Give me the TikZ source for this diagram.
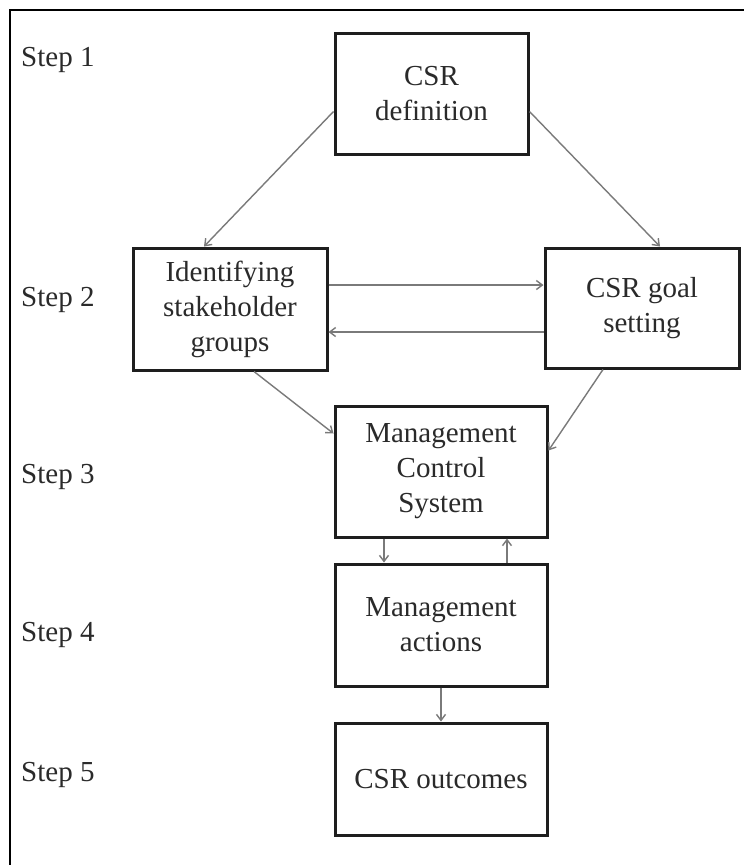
\documentclass[tikz,border=0pt]{standalone}
\usepackage{fontspec}
\setmainfont{Liberation Serif}
\usetikzlibrary{arrows.meta,calc}
\definecolor{boxline}{HTML}{1E1E1E}
\definecolor{arrline}{HTML}{7A7A7A}
\definecolor{txt}{HTML}{2A2A2A}
\begin{document}
\begin{tikzpicture}[x=1pt,y=-1pt,
  stepbox/.style={draw=boxline,line width=3pt,align=center,text=txt,inner sep=2pt,
    font=\fontsize{29}{35}\selectfont},
  steplabel/.style={anchor=west,text=txt,inner sep=0pt,font=\fontsize{29}{35}\selectfont},
  arr/.style={draw=arrline,line width=1.4pt,-{Straight Barb[length=6pt,width=9pt]}},
  frameline/.style={draw=black,line width=2pt}]
\useasboundingbox (0,0) rectangle (744,865);
\fill[white] (0,0) rectangle (744,865);
\draw[frameline] (744,10) -- (10,10) -- (10,866);

% step labels
\node[steplabel] (s1) at (21,60) {Step 1};
\node[steplabel] (s2) at (21,300) {Step 2};
\node[steplabel] (s3) at (21,477) {Step 3};
\node[steplabel] (s4) at (21,635) {Step 4};
\node[steplabel] (s5) at (21,775) {Step 5};

% boxes
\node[stepbox,minimum width=193pt,minimum height=121pt] (def) at (431.5,93.5) {CSR\\definition};
\node[stepbox,minimum width=194pt,minimum height=122pt] (ident) at (230,309) {Identifying\\stakeholder\\groups};
\node[stepbox,minimum width=194pt,minimum height=120pt] (goal) at (642,308) {CSR goal\\setting};
\node[stepbox,minimum width=212pt,minimum height=131pt] (mcs) at (441,471.5) {Management\\Control\\System};
\node[stepbox,minimum width=212pt,minimum height=122pt] (act) at (441,625) {Management\\actions};
\node[stepbox,minimum width=212pt,minimum height=112pt] (out) at (441,779) {CSR outcomes};

% connectors
\draw[arr] ([yshift=-18pt]def.west) -- ([xshift=-26pt]ident.north);
\draw[arr] ([yshift=-18pt]def.east) -- ([xshift=18pt]goal.north);
\coordinate (h1) at ([yshift=24pt]ident.east);
\coordinate (h2) at ([yshift=-23pt]ident.east);
\draw[arr] (h1) -- (h1 -| goal.west);
\draw[arr] (h2 -| goal.west) -- (h2);
\draw[arr] ([xshift=24pt]ident.south) -- ([yshift=38pt]mcs.west);
\draw[arr] ([xshift=-39pt]goal.south) -- ([yshift=21pt]mcs.east);
\draw[arr] ([xshift=-57pt]mcs.south) -- ([xshift=-57pt]act.north);
\draw[arr] ([xshift=66pt]act.north) -- ([xshift=66pt]mcs.south);
\draw[arr] (act.south) -- (out.north);
\end{tikzpicture}
\end{document}
